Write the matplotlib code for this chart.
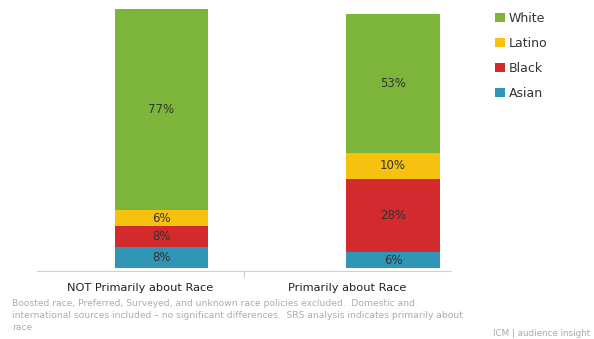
import numpy as np
import matplotlib.pyplot as plt

categories = ["NOT Primarily about Race", "Primarily about Race"]
groups = ["Asian", "Black", "Latino", "White"]
asian = [8, 6]
black = [8, 28]
latino = [6, 10]
white = [77, 53]
colors = {"Asian": "#2f97b5", "Black": "#d22a2d", "Latino": "#f7c20f", "White": "#7db53a"}

series = [asian, black, latino, white]

fig = plt.figure(figsize=(5.94, 3.39), dpi=100)
ax = fig.add_axes([37 / 594, 71 / 339, 414 / 594, 259 / 339])

bar_pos = [0.1, 1.22]
bottom = np.zeros(len(categories))
for name, vals in zip(groups, series):
    vals = np.array(vals, dtype=float)
    ax.bar(bar_pos, vals, width=0.45, bottom=bottom, color=colors[name],
           label=name, edgecolor="none")
    for x, b, v in zip(bar_pos, bottom, vals):
        ax.text(x, b + v / 2, f"{int(v)}%", ha="center", va="center",
                fontsize=8.5, color="#333333")
    bottom += vals

ax.set_xlim(-0.5, 1.5)
ax.set_ylim(0, 99)
ax.set_yticks([])
ax.set_xticks([0, 1])
ax.set_xticklabels(categories)
ax.tick_params(axis="x", length=0, pad=9, labelsize=8.2, labelcolor="#222222")
for s in ["top", "right", "left"]:
    ax.spines[s].set_visible(False)
ax.spines["bottom"].set_color("#d0d0d0")
ax.spines["bottom"].set_position(("data", -1))
ax.plot([0.5, 0.5], [-1, -3.5], color="#d0d0d0", lw=0.8, clip_on=False)

handles, labels = ax.get_legend_handles_labels()
fig.legend(handles[::-1], labels[::-1], loc="upper left",
           bbox_to_anchor=(484 / 594, 1 - 1 / 339), frameon=False,
           fontsize=9, handlelength=0.75, handleheight=0.75,
           labelspacing=0.95, handletextpad=0.35, labelcolor="#333333")

note = ("Boosted race, Preferred, Surveyed, and unknown race policies excluded.  Domestic and\n"
        "international sources included \u2013 no significant differences.  SRS analysis indicates primarily about\n"
        "race")
fig.text(12 / 594, 1 - 299 / 339, note, fontsize=6.6, color="#acacac",
         va="top", ha="left", linespacing=1.45)
fig.text(590 / 594, 1 - 338 / 339, "ICM | audience insight", fontsize=6.3,
         color="#a8a8a8", ha="right", va="bottom")

fig.savefig("out.png", dpi=100, facecolor="white")
